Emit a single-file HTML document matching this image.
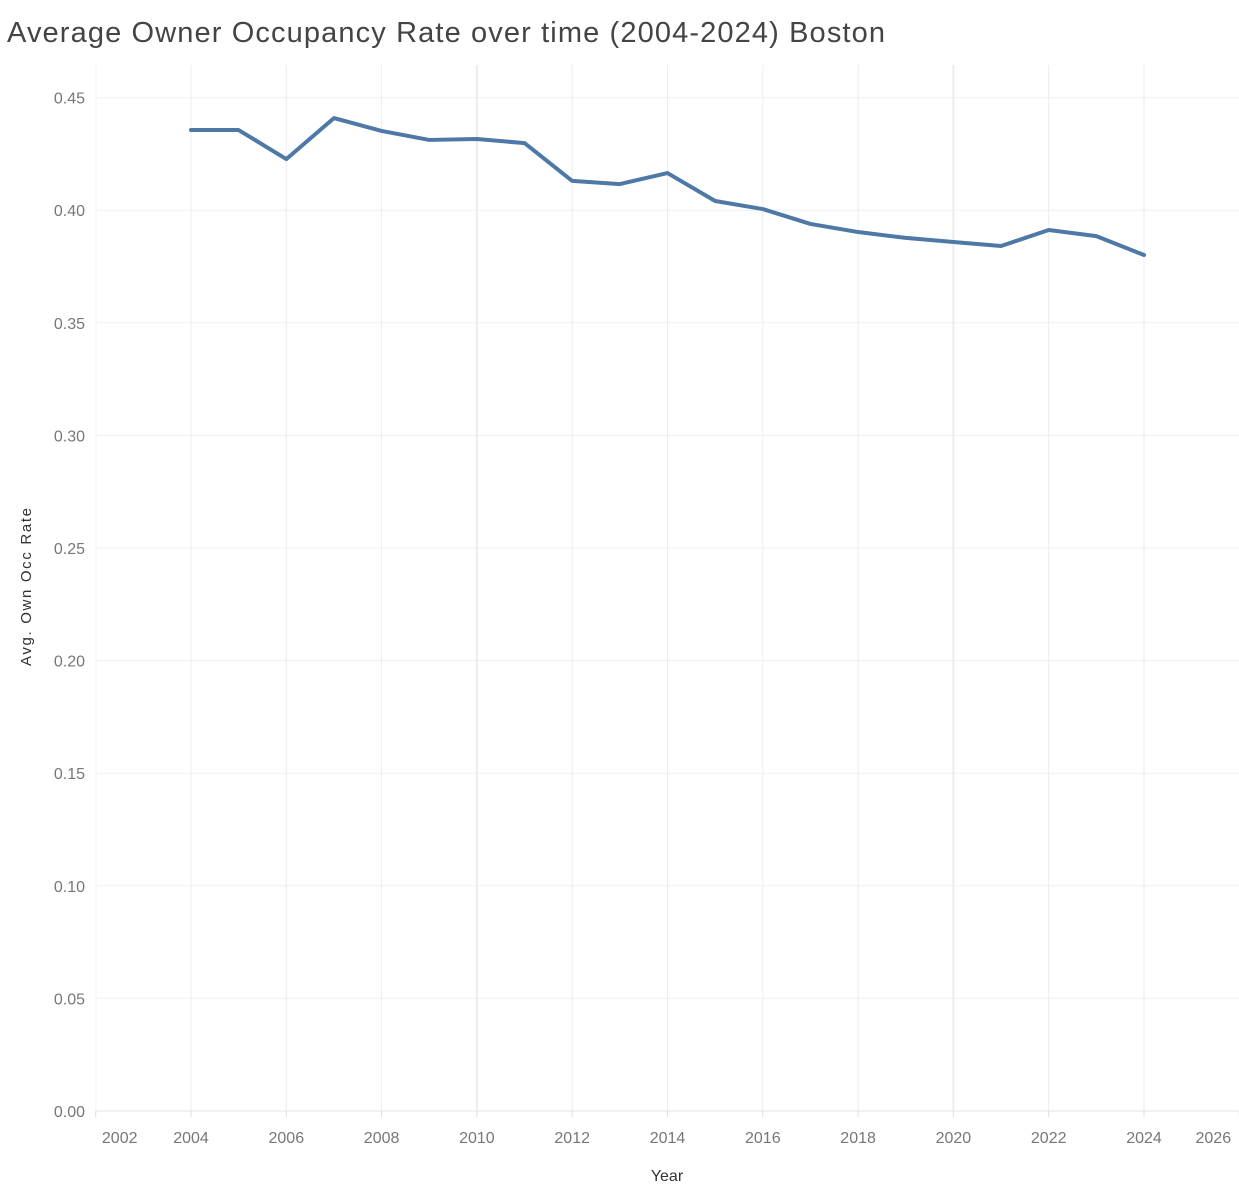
<!DOCTYPE html>
<html><head><meta charset="utf-8"><style>
body{margin:0;background:#fff;font-family:"Liberation Sans",sans-serif;}
svg text{font-family:"Liberation Sans",sans-serif;}
</style></head><body>
<svg id="chart" width="1239" height="1197" xmlns="http://www.w3.org/2000/svg">
<text x="7" y="42" font-size="29" fill="#444" textLength="878" lengthAdjust="spacing">Average Owner Occupancy Rate over time (2004-2024) Boston</text>
<g id="grid"></g><g id="axes"></g><g id="series"></g>
<text transform="translate(31,587) rotate(-90)" text-anchor="middle" font-size="15" fill="#333" textLength="158">Avg. Own Occ Rate</text>
<text x="667" y="1181" text-anchor="middle" font-size="16" fill="#333">Year</text>
</svg>
<script>
const years=[2004,2005,2006,2007,2008,2009,2010,2011,2012,2013,2014,2015,2016,2017,2018,2019,2020,2021,2022,2023,2024];
const rates=[0.4356,0.4356,0.4227,0.4409,0.4352,0.4312,0.4316,0.4298,0.4130,0.4116,0.4165,0.4041,0.4005,0.3939,0.3903,0.3877,0.3859,0.3841,0.3912,0.3885,0.3801];
const xTicks=[2002,2004,2006,2008,2010,2012,2014,2016,2018,2020,2022,2024,2026];
const yTicks=[0,0.05,0.10,0.15,0.20,0.25,0.30,0.35,0.40,0.45];
const NS="http://www.w3.org/2000/svg";
const x=v=>95.7+(v-2002)*47.65;
const y=v=>1111-v*2252;
function mk(tag,attrs,parent){const e=document.createElementNS(NS,tag);for(const k in attrs)e.setAttribute(k,attrs[k]);document.getElementById(parent).appendChild(e);return e;}
yTicks.forEach(t=>{
 const l=mk('line',{x1:96,x2:1239,y1:y(t),y2:y(t),stroke:t===0?'#e6e6e6':'#f0f0f0','stroke-width':1},'grid');
 
 
 const tx=mk('text',{x:85,y:y(t)+6,'text-anchor':'end','font-size':16,fill:'#777'},'axes');
 tx.textContent=t.toFixed(2);
 
 
});
xTicks.forEach(t=>{
 if(t!==2002&&t!==2026){
 const l=mk('line',{x1:x(t),x2:x(t),y1:65,y2:1111,stroke:'#ececec','stroke-width':(t%10===0)?2:1},'grid');
 
 }
 const tk=mk('line',{x1:x(t),x2:x(t),y1:1111,y2:1117,stroke:'#ddd'},'axes');
 
 
 let px=x(t); if(t===2002)px+=24; if(t===2026)px-=26;
 const tx=mk('text',{x:px,y:1143,'text-anchor':'middle','font-size':16,fill:'#777'},'axes');
 tx.textContent=t;
 
 
});
const a=mk('line',{x1:96,x2:96,y1:65,y2:1111,stroke:'#f0f0f0'},'axes');


const p=mk('polyline',{points:years.map((yr,i)=>x(yr)+','+y(rates[i])).join(' '),fill:'none',stroke:'#4e79a7','stroke-width':4,'stroke-linejoin':'round','stroke-linecap':'round'},'series');


</script>
</body></html>
